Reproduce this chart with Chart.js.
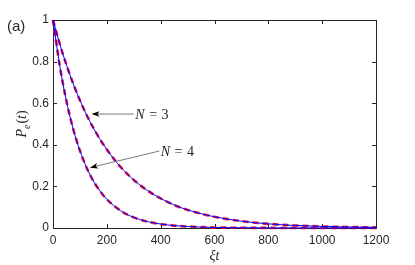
<!DOCTYPE html>
<html>
<head>
<meta charset="utf-8">
<script src="https://cdn.jsdelivr.net/npm/chart.js@4.4.1/dist/chart.umd.min.js"></script>
<style>
  html, body { margin: 0; padding: 0; background: #fff; }
</style>
</head>
<body>
<canvas id="c" width="415" height="265"></canvas>
<script>
// values (xi*t on x, excited population on y)
const times = [0, 25, 50, 75, 100, 125, 150, 175, 200, 250, 300, 350, 400, 450, 500, 600, 700, 800, 900, 1000, 1100, 1200];
const popN3 = [1, 0.885, 0.784, 0.694, 0.614, 0.543, 0.481, 0.426, 0.377, 0.295, 0.231, 0.181, 0.142, 0.111, 0.087, 0.054, 0.033, 0.020, 0.012, 0.0076, 0.0047, 0.0029];
const popN4 = [1, 0.781, 0.610, 0.476, 0.372, 0.290, 0.226, 0.177, 0.138, 0.084, 0.051, 0.031, 0.019, 0.0116, 0.0071, 0.0026, 0.0010, 0.0004, 0.0001, 0.0001, 0, 0];
const xTicks = [0, 200, 400, 600, 800, 1000, 1200];
const yTicks = [0, 0.2, 0.4, 0.6, 0.8, 1];

// arrow annotations, in data units
const noteN3 = {label: '3', tip: [143, 0.548], tail: [300, 0.548], text: [306, 0.548]};
const noteN4 = {label: '4', tip: [137, 0.290], tail: [395, 0.37], text: [400, 0.37]};

const INK = '#262626';
const BLUE = '#0000ff';
const RED = 'rgba(235, 0, 30, 0.9)';
const tickFont = {family: '"Liberation Sans", Arial, sans-serif', size: 12};

const pts = ys => times.map((t, i) => ({x: t, y: ys[i]}));

function solid(ys) {
  return {data: pts(ys), borderColor: BLUE, borderWidth: 1, pointRadius: 0,
          cubicInterpolationMode: 'monotone', clip: 4};
}
function dashed(ys) {
  return {data: pts(ys), borderColor: RED, borderWidth: 2.6, borderDash: [6, 4],
          pointRadius: 0, cubicInterpolationMode: 'monotone', clip: 4};
}

// draw a run of text pieces, italic where asked, left to right
function mathText(ctx, parts, x, y, size) {
  let cx = x;
  for (const p of parts) {
    const s = p.sub ? size * 0.72 : size;
    ctx.font = (p.it ? 'italic ' : '') + s + 'px "Liberation Serif", "DejaVu Serif", serif';
    ctx.fillText(p.t, cx, y + (p.sub ? size * 0.28 : 0));
    cx += ctx.measureText(p.t).width + (p.gap || 0);
  }
  return cx - x;
}
function mathWidth(ctx, parts, size) {
  let w = 0;
  for (const p of parts) {
    const s = p.sub ? size * 0.72 : size;
    ctx.font = (p.it ? 'italic ' : '') + s + 'px "Liberation Serif", "DejaVu Serif", serif';
    w += ctx.measureText(p.t).width + (p.gap || 0);
  }
  return w;
}

const frame = {
  id: 'frame',
  beforeDatasetsDraw(chart) {
    const {ctx, chartArea: a, scales: {x, y}} = chart;
    ctx.save();
    ctx.strokeStyle = INK;
    ctx.lineWidth = 1;
    ctx.strokeRect(a.left + 0.5, a.top + 0.5, a.right - a.left, a.bottom - a.top);
    ctx.beginPath();
    for (const v of xTicks) {
      const px = Math.round(x.getPixelForValue(v)) + 0.5;
      ctx.moveTo(px, a.bottom); ctx.lineTo(px, a.bottom - 4);
      ctx.moveTo(px, a.top); ctx.lineTo(px, a.top + 4);
    }
    for (const v of yTicks) {
      const py = Math.round(y.getPixelForValue(v)) + 0.5;
      ctx.moveTo(a.left, py); ctx.lineTo(a.left + 4, py);
      ctx.moveTo(a.right, py); ctx.lineTo(a.right - 4, py);
    }
    ctx.stroke();
    ctx.restore();
  },
  afterDraw(chart) {
    const {ctx, chartArea: a, scales: {x, y}} = chart;
    ctx.save();
    ctx.fillStyle = INK;
    ctx.textBaseline = 'alphabetic';

    // panel tag
    ctx.font = '15px "Liberation Sans", Arial, sans-serif';
    ctx.fillText('(a)', 7, 31);

    // x title
    const xt = [{t: '\u03be', it: true}, {t: 't', it: true}];
    const wx = mathWidth(ctx, xt, 14);
    mathText(ctx, xt, (a.left + a.right) / 2 - wx / 2, 260, 14);

    // y title, rotated
    const yt = [{t: 'P', it: true}, {t: 'e', it: true, sub: true, gap: 1}, {t: '('}, {t: 't', it: true}, {t: ')'}];
    const wy = mathWidth(ctx, yt, 14);
    ctx.save();
    ctx.translate(26, (a.top + a.bottom) / 2);
    ctx.rotate(-Math.PI / 2);
    mathText(ctx, yt, -wy / 2, 0, 14);
    ctx.restore();

    // arrows with labels
    for (const n of [noteN3, noteN4]) {
      const tx = x.getPixelForValue(n.tip[0]), ty = y.getPixelForValue(n.tip[1]);
      const sx = x.getPixelForValue(n.tail[0]), sy = y.getPixelForValue(n.tail[1]);
      const ang = Math.atan2(ty - sy, tx - sx);
      ctx.strokeStyle = '#7a7a7a';
      ctx.lineWidth = 1;
      ctx.beginPath();
      ctx.moveTo(sx, sy);
      ctx.lineTo(tx - 6 * Math.cos(ang), ty - 6 * Math.sin(ang));
      ctx.stroke();
      ctx.fillStyle = '#000';
      ctx.beginPath();
      ctx.moveTo(tx, ty);
      ctx.lineTo(tx - 8 * Math.cos(ang) + 2.8 * Math.sin(ang), ty - 8 * Math.sin(ang) - 2.8 * Math.cos(ang));
      ctx.lineTo(tx - 6 * Math.cos(ang), ty - 6 * Math.sin(ang));
      ctx.lineTo(tx - 8 * Math.cos(ang) - 2.8 * Math.sin(ang), ty - 8 * Math.sin(ang) + 2.8 * Math.cos(ang));
      ctx.closePath();
      ctx.fill();

      ctx.fillStyle = INK;
      const lx = x.getPixelForValue(n.text[0]), ly = y.getPixelForValue(n.text[1]);
      mathText(ctx, [{t: 'N', it: true, gap: 4.5}, {t: '=', gap: 4.5}, {t: n.label}], lx, ly + 5, 14);
    }
    ctx.restore();
  }
};

new Chart(document.getElementById('c'), {
  type: 'line',
  data: {
    datasets: [solid(popN3), solid(popN4), dashed(popN3), dashed(popN4)]
  },
  options: {
    responsive: false,
    animation: false,
    devicePixelRatio: 1,
    layout: {padding: {left: 0, right: 39, top: 20, bottom: 0}},
    plugins: {legend: {display: false}, tooltip: {enabled: false}},
    scales: {
      x: {
        type: 'linear', min: 0, max: 1200,
        afterBuildTicks: s => { s.ticks = xTicks.map(v => ({value: v})); },
        afterFit: s => { s.height = 37; },
        grid: {display: false, drawTicks: false},
        border: {display: false},
        ticks: {font: tickFont, color: INK, padding: 5, maxRotation: 0, autoSkip: false,
                callback: v => String(v)}
      },
      y: {
        type: 'linear', min: 0, max: 1,
        afterBuildTicks: s => { s.ticks = yTicks.map(v => ({value: v})); },
        afterFit: s => { s.width = 53; },
        grid: {display: false, drawTicks: false},
        border: {display: false},
        ticks: {font: tickFont, color: INK, padding: 4, autoSkip: false,
                callback: v => (v === 0 || v === 1) ? String(v) : v.toFixed(1)}
      }
    }
  },
  plugins: [frame]
});
</script>
</body>
</html>
